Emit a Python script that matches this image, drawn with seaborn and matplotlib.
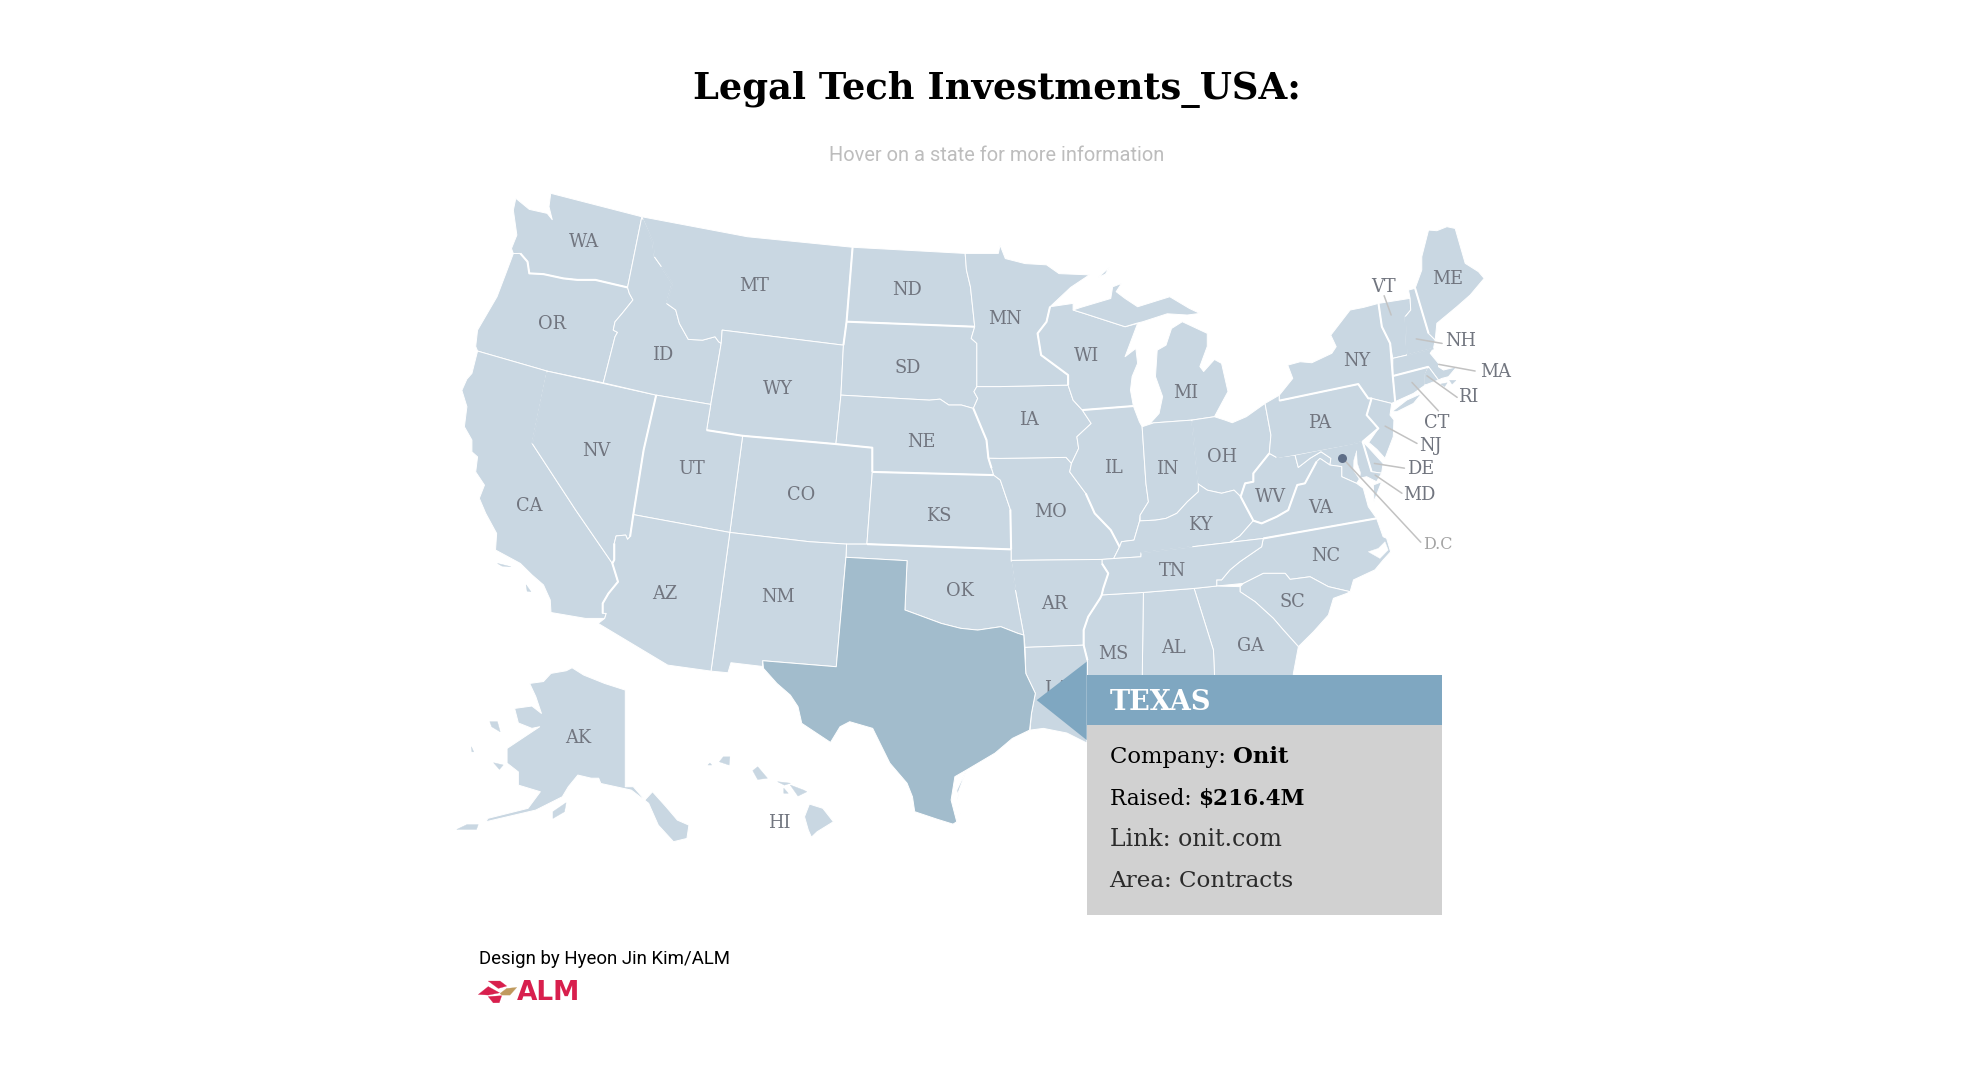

import matplotlib.pyplot as plt
import pandas as pd
import seaborn as sns

# outlines are in the picture's own map units (x right, y down)
WA = [(438.8,154),(511.4,172.7),(500,229),(474.4,223),(460,223),(448.8,221.8),(433,218.4),(421.7,217.8),(420.3,208.5),(414.6,201.9),(409,202),(407.5,198),(411.8,187.3),(409,167.4),(411,158),(421.7,166.8),(436,170),(440,175),(437.4,164.7)]
OR = [(409,202),(403,218),(396,236.4),(380.5,263),(379,276),(380.5,279.7),(436,295.7),(480.7,305),(490,268.3),(492,264.8),(488.6,263),(490,256.4),(495.7,249.7),(504.3,239),(501.4,233.8),(500,229),(474.4,223),(460,223),(448.8,221.8),(433,218.4),(421.7,217.8),(420.3,208.5),(414.6,201.9)]
CA = [(380.5,279.7),(436,295.7),(424,353.3),(458.7,406.4),(487.9,448.9),(492.4,463.5),(484.8,472.8),(480.2,480.7),(480.2,488.7),(483,488.7),(481.8,492.7),(466.5,492.7),(439,488),(438.4,478),(433,466),(423.8,458),(414.6,448.9),(394.8,438.2),(395.7,425),(387,409),(381.9,397),(386,386.5),(379,376),(380.5,364),(376,360),(376,350.6),(370,340),(372,324),(368,311),(372,302),(376,297.5)]
NV = [(436,295.7),(522.8,314.8),(512.8,358.6),(504.6,410),(502,427.6),(500,429.7),(498.5,426.3),(490.9,427),(489.4,433),(489.4,446),(487.9,448.9),(458.7,406.4),(424,353.3)]
ID = [(511.4,172.7),(500,229),(501.4,233.8),(504.3,239),(495.7,249.7),(490,256.4),(488.6,263),(492,264.8),(490,268.3),(480.7,305),(522.8,314.8),(566.3,322.2),(574.6,273.6),(572.6,272.3),(569.7,268.3),(559.8,271),(548.4,270.4),(541.3,257.7),(538.4,247),(531,241.7),(535.6,225.8),(527,212.5),(521.4,204.6),(520,192.6)]
MT = [(511.4,172.7),(595.4,188.6),(679.3,197),(674.5,256.3),(672,275),(575.4,263),(574.6,273.6),(572.6,272.3),(569.7,268.3),(559.8,271),(548.4,270.4),(541.3,257.7),(538.4,247),(531,241.7),(535.6,225.8),(527,212.5),(521.4,204.6),(520,192.6)]
WY = [(575.4,263),(672,275),(670,314.8),(666,353.8),(591.7,347.2),(563,342.7),(566.3,322.2),(574.6,273.6)]
ND = [(679.3,197),(769,201.9),(770,215),(773.2,228.5),(776.6,260.3),(674.5,256.3)]
SD = [(674.5,256.3),(776.6,260.3),(773.8,269.6),(778.3,273.6),(778.3,308),(776,312),(779,317.4),(775.5,325.4),(766,322.7),(756,322.7),(749,318),(740.5,318.8),(670,314.8),(672,275)]
NE = [(670,314.8),(740.5,318.8),(749,318),(756,322.7),(766,322.7),(775.5,325.4),(786,350.6),(787.5,365),(790,373),(791.7,378.5),(695,376),(695,356.7),(666,353.8)]
CO = [(591.7,347.2),(666,353.8),(695,356.7),(695,376),(690.7,433.5),(674.5,433.5),(644.9,431.6),(581.5,424.2)]
UT = [(522.8,314.8),(566.3,322.2),(563,342.7),(591.7,347.2),(581.5,424.2),(504.6,410),(512.8,358.6)]
KS = [(695,376),(791.7,378.5),(797,382.5),(805,406),(805.6,437.7),(690.7,433.5)]
MO = [(787.5,365),(796.8,365.2),(849.4,364.4),(853.7,369.2),(852.3,375.9),(865,393),(872.2,409),(885,422.3),(892,435.6),(887.3,445),(878,445.7),(805.6,446.5),(805.6,437.7),(805,406),(797,382.5),(791.7,378.5),(790,373)]
IA = [(778.3,308),(796.8,308),(851,306.8),(855,318.8),(862.3,326.7),(869.4,337.4),(858,348),(859.4,357.3),(853.7,369.2),(849.4,364.4),(796.8,365.2),(787.5,365),(786,350.6),(775.5,325.4),(779,317.4),(776,312)]
MN = [(769,201.9),(795.4,201.9),(796.8,195.3),(801,206),(816.7,210),(833.8,211),(843.8,218),(868,219),(853,229),(836.6,244.4),(833.8,256.4),(826.7,265.6),(829.5,282.9),(851,298.8),(851,306.8),(796.8,308),(778.3,308),(778.3,273.6),(773.8,269.6),(776.6,260.3),(773.2,228.5),(770,215)]
WI = [(836.6,244.4),(855,241.7),(855,247),(863.7,249.7),(896.4,260.3),(906.4,257.7),(896.4,284.2),(905,277.6),(906.4,289.5),(902,300),(900.7,310.8),(903,323.5),(862.3,326.7),(855,318.8),(851,306.8),(851,298.8),(829.5,282.9),(826.7,265.6),(833.8,256.4)]
MI_UPPER = [(855,247),(860.8,245),(885,237.8),(886.5,228.5),(893.6,225.8),(889.3,232.4),(896.4,237.8),(906.4,244.4),(932,236.4),(947.6,245.7),(956,249.7),(946,251),(930,250),(910.6,256.3),(905,257.7),(896.4,260.3),(863.7,249.7)]
MI_LOWER = [(916.3,337.4),(919.2,336.9),(949.6,334.7),(967.6,332),(969,329.4),(974.7,318.8),(978.4,312),(973.3,289.5),(967.6,286.4),(959,296),(956,292),(961.9,276),(961.9,265.6),(942,256.3),(933.4,261.7),(929,275),(922,279),(920.6,300),(926.3,316),(923.5,329.4)]
MI_ISLE = [(875,221),(883.6,213.3),(880.8,218.4)]
IL = [(862.3,326.7),(903,323.5),(907.8,336),(910,340),(913,385),(915,399.8),(908.4,410.4),(907.8,415.7),(903.5,430.3),(893.6,431.6),(892,435.6),(885,422.3),(872.2,409),(865,393),(852.3,375.9),(853.7,369.2),(859.4,357.3),(858,348),(869.4,337.4)]
IN = [(910,340),(919.2,336.9),(949.6,334.7),(954.8,385.7),(954.8,391.8),(946,399.8),(937.6,409),(929,413),(920.6,414.4),(908.4,415),(908.4,410.4),(915,399.8),(913,385)]
OH = [(949.6,334.7),(967.6,332),(976,334.7),(981.8,336.8),(993,332),(1007.9,321.4),(1012.6,346.6),(1011.3,361.2),(998.6,377.1),(998.6,383.8),(992,385.1),(988.5,395.7),(983.2,390.5),(973.3,393),(961.9,390.5),(954.8,385.7)]
KY = [(908.4,415),(920.6,414.4),(929,413),(937.6,409),(946,399.8),(954.8,391.8),(954.8,385.7),(961.9,390.5),(973.3,393),(983.2,390.5),(988.5,395.7),(992,402.4),(998.6,414.8),(987.9,427),(980,432.1),(909.2,440.4),(909,443.6),(887.3,445),(892,435.6),(893.6,431.6),(903.5,430.3),(907.8,415.7)]
WV = [(1017,364.4),(1011.3,361.2),(998.6,377.1),(998.6,383.8),(992,385.1),(988.5,395.7),(992,402.4),(998.6,414.8),(1005.2,417),(1017.2,411.7),(1026.4,406.4),(1033.6,386.4),(1039.7,385.1),(1049,367.8),(1051.7,365.2),(1059.6,370.5),(1060.4,365.2),(1052.5,359.9),(1043.7,365.2),(1034.4,372.4),(1031.8,362.5)]
PA = [(1007.9,321.4),(1019.3,314.8),(1019.3,319.2),(1082.2,306),(1090.2,317.4),(1092.8,317.4),(1088.9,330.7),(1098.2,341.3),(1085.7,351.9),(1031.8,362.5),(1017,364.4),(1011.3,361.2),(1012.6,346.6)]
NY = [(1019.3,314.8),(1030,301.5),(1026,290.9),(1035.9,288.2),(1045.2,289),(1061.1,281.5),(1064.6,276.2),(1060.3,267),(1075.7,247),(1086.4,244.9),(1098.3,241.7),(1101,260.3),(1107.6,273.6),(1109.7,299.6),(1111.6,320),(1108.8,321.4),(1092.8,317.4),(1090.2,317.4),(1082.2,306),(1019.3,319.2)]
LONG_ISLAND = [(1109,328),(1120.9,318.7),(1132.8,313.4),(1126.2,321.4),(1113,328)]
NJ = [(1092.8,317.4),(1108.8,321.4),(1107.5,330.7),(1110.6,334.6),(1110.1,347.9),(1103.5,365.2),(1097,358),(1090.5,352.5),(1098.2,341.3),(1088.9,330.7)]
DE = [(1085.7,351.9),(1090.2,356.4),(1102,369.2),(1100.8,377),(1092.8,375.8)]
MD = [(1031.8,362.5),(1085.7,351.9),(1092.8,375.8),(1100.8,377),(1096.8,383.8),(1088.9,379.8),(1083.5,381),(1080.9,385.1),(1069,379.8),(1069,371.8),(1059.6,370.5),(1060.4,365.2),(1052.5,359.9),(1043.7,365.2),(1034.4,372.4)]
CHESAPEAKE = [(1080.9,359),(1078.7,366.5),(1078.2,374.5),(1083,381.8),(1084.1,377),(1081.4,369)]
VA_SHORE = [(1094.2,386.4),(1100.8,383.8),(1094.7,399.7)]
VA = [(998.6,414.8),(1005.2,417),(1017.2,411.7),(1026.4,406.4),(1033.6,386.4),(1039.7,385.1),(1049,367.8),(1051.7,365.2),(1059.6,370.5),(1069,371.8),(1069,379.8),(1080.9,385.1),(1086.2,389),(1090.2,403.7),(1096.8,413),(1006.5,429),(980,432.1),(987.9,427)]
NC = [(1096.8,413),(1102,427.6),(1104.8,428.9),(1108,439.6),(1102,446.2),(1095.5,454),(1078.4,462),(1075.7,471.4),(1058.4,467.4),(1043.8,459.5),(1027.9,461.6),(1024,456.8),(1006.6,456.8),(990.7,464.8),(969.4,466.9),(969.4,462),(973.3,462),(980,454),(987.9,447.5),(1005.2,435.6),(1006.5,429)]
NC_SOUND = [(1103.5,431.6),(1106,438.2),(1099.5,444.9),(1090.2,439.6),(1098.2,436.9)]
SC = [(988,467.4),(990.7,464.8),(1006.6,456.8),(1024,456.8),(1027.9,461.6),(1043.8,459.5),(1058.4,467.4),(1075.7,471.4),(1073,472.8),(1062.4,476.7),(1058.4,490),(1046.5,503.3),(1034.5,515.2),(1022.6,502),(1014.6,492.7),(1000,479.4),(988,471.4)]
GA = [(951.4,468.8),(969.4,466.9),(988,467.4),(988,471.4),(1000,479.4),(1014.6,492.7),(1022.6,502),(1034.5,515.2),(1030.5,536.5),(1030,545),(968,545),(966.8,518)]
AL = [(911,472),(951.4,468.8),(966.8,518),(968,545),(910,545)]
MS = [(877.8,474),(911,472),(910,545),(866,545),(866.4,526),(863.4,514),(863.4,502),(867,491.4),(876.5,476.7)]
TN = [(887.3,445),(909,443.6),(909.2,440.4),(980,432.1),(1006.5,429),(1005.2,435.6),(987.9,447.5),(980,454),(973.3,462),(969.4,462),(969.4,466.9),(951.4,468.8),(911,472),(877.8,474),(879,468.8),(883,456.8),(878,449),(878,445.7)]
AR = [(805.6,446.5),(878,445.7),(878,449),(883,456.8),(879,468.8),(877.8,474),(876.5,476.7),(867,491.4),(863.4,502),(863.4,514),(816.7,515.8),(815.7,506),(809,470)]
LA = [(816.7,515.8),(863.4,514),(866.4,526),(866,592),(850,584),(831.3,580.3),(820.7,581.7),(821.8,568.4),(824.9,552.4),(817.3,536.5)]
OK = [(674.5,433.5),(690.7,433.5),(805.6,437.7),(805.6,446.5),(809,470),(815.7,506),(811,504.6),(797.4,499.3),(779,502),(765.4,500.6),(750,496.7),(731.9,490),(721,486),(722.7,446.7),(674,444)]
TX = [(674,444),(722.7,446.7),(721,486),(731.9,490),(750,496.7),(765.4,500.6),(779,502),(797.4,499.3),(811,504.6),(815.7,506),(817.3,536.5),(824.9,552.4),(821.8,568.4),(820.3,581.7),(806.6,588.3),(792.8,600),(770,613.5),(760.8,618.8),(757.8,637.4),(762.3,654.7),(759.3,656.6),(747,652.8),(728.8,646.7),(727,634.8),(722.7,624),(709,608),(695.3,580.3),(677,575),(669.3,579),(661.7,591.5),(638.8,576.3),(635.8,563),(629.7,553.8),(619,544.5),(608.3,532.5),(607.7,526.4),(666.3,531.2)]
PADRE = [(770,613.5),(762.3,629.5),(765.4,653.4),(763.3,632)]
NM = [(581.5,424.2),(644.9,431.6),(674.5,433.5),(674,444),(666.3,531.2),(607.7,526.4),(607.7,531),(582.4,528),(580,536),(566.5,534.7)]
AZ = [(504.6,410),(581.5,424.2),(566.5,534.7),(532,529.9),(476.6,496.7),(481.8,492.7),(483,488.7),(480.2,488.7),(480.2,480.7),(484.8,472.8),(492.4,463.5),(487.9,448.9),(489.4,446),(489.4,433),(490.9,427),(498.5,426.3),(500,429.7),(502,427.6)]
VT = [(1098.3,241.7),(1123.5,237.7),(1124,247),(1119.6,252.3),(1120.9,282.9),(1109.7,285.5),(1107.6,273.6),(1101,260.3)]
NH = [(1123.5,237.7),(1122.2,231.1),(1127.5,229.7),(1138.2,265.6),(1143.5,270.9),(1142.1,277.6),(1120.9,282.9),(1119.6,252.3),(1124,247)]
ME = [(1127.5,229.7),(1132.8,215.1),(1132.8,204.5),(1138.2,183.3),(1144.8,183.8),(1152.8,180.6),(1159.4,182),(1167.4,209.8),(1178,216.5),(1182.5,221.8),(1171.4,235),(1160.7,244.4),(1144.8,257.6),(1143.5,270.9),(1138.2,265.6)]
MA = [(1109.7,285.5),(1120.9,282.9),(1142.1,277.6),(1139.5,281.5),(1146.1,289.5),(1146.1,292.2),(1150.1,294.8),(1160.7,292.2),(1154.1,300.1),(1148.8,301.5),(1146.1,302.8),(1138.2,292.2),(1109.7,299.6)]
CT = [(1109.7,299.6),(1138.2,292.2),(1135.5,298.8),(1135.5,306.8),(1126.2,313.4),(1111.6,320)]
RI = [(1138.2,292.2),(1146.1,302.8),(1135.5,306.8),(1135.5,298.8)]
AK = [(455.8,532),(465,537.8),(481.7,544.5),(498.2,549.8),(498.2,626.8),(504.6,626.8),(513.8,637.4),(519.9,630.8),(530.6,642.7),(539.7,653.4),(548.9,657.4),(547.3,668),(536.6,670.6),(524.5,657.4),(516.8,640),(503,629.5),(478.7,624.2),(477,620),(471,620),(460.4,617.5),(452.8,626.8),(448,634.8),(426.9,645.4),(387.2,654.7),(388.7,652),(420.7,644),(430.5,630.8),(413,625.5),(413,615),(404,608),(404,596.3),(416,588.3),(430,579),(423.8,580.3),(413,576),(410,564.4),(423.8,562.5),(431.4,568.4),(426.9,555),(422,544.5),(433,543),(439,536.5),(451.2,534.4)]
HI = [(644.9,640.6),(655.6,644),(664,654.7),(651,662.7),(646.5,667),(644,661.3),(641,650.7)]

ISLANDS = [
    [(364,660.8),(372,657),(381,657),(379.6,660.8)],
    [(440.6,646.7),(451,639.6),(449.7,646.7),(440.6,652)],
    [(390.3,575),(396.3,575),(398.5,583),(391.8,579)],
    [(393.3,607.7),(400.9,609.5),(397.9,613)],
    [(375.6,595),(377.4,599),(376,599)],
    [(629.7,625.5),(640.3,629.5),(642.8,630.8),(635.8,634.2)],
    [(603.7,610.9),(611.4,620),(603.7,621),(599.8,614)],
    [(576.3,603),(581.5,603),(580.9,609.5),(573.2,606.9)],
    [(565.6,607.9),(567,609.5),(564.1,609.5)],
    [(619.6,622.8),(629.7,624),(625,625.5)],
    [(624.5,628),(628,632),(624.5,632)],
    [(396.4,448.9),(407,451.5),(400,451)],
    [(419.2,466),(423,471.4),(420,471)],
    [(1155,303),(1160,303),(1157,306)],
    [(1148,306),(1153,305),(1151,308)],
]

STATE_OUTLINES = [WA, OR, CA, NV, ID, MT, WY, ND, SD, NE, CO, UT, KS, MO, IA, MN, WI, MI_UPPER,
                  MI_LOWER, MI_ISLE, IL, IN, OH, KY, WV, PA, NY, LONG_ISLAND, NJ, DE, MD, VA_SHORE,
                  VA, NC, SC, GA, AL, MS, TN, AR, LA, OK, PADRE, NM, AZ, VT, NH, ME, MA, CT, RI, AK, HI]

# borders that read heavier in the picture
THICK_BORDERS = [
    [(500,229),(474.4,223),(460,223),(448.8,221.8),(433,218.4),(421.7,217.8),(420.3,208.5),(414.6,201.9)],
    [(674.5,256.3),(776.6,260.3)],
    [(522.8,314.8),(512.8,358.6),(504.6,410),(502,427.6)],
    [(679.3,197),(674.5,256.3),(672,275)],
    [(563,342.7),(591.7,347.2),(666,353.8),(695,356.7),(695,376)],
    [(775.5,325.4),(786,350.6),(787.5,365),(790,373)],
    [(851,306.8),(851,298.8),(829.5,282.9),(826.7,265.6),(833.8,256.4),(836.6,244.4)],
    [(862.3,326.7),(903,323.5)],
    [(489.4,433),(489.4,446),(487.9,448.9),(492.4,463.5),(484.8,472.8),(480.2,480.7),(480.2,488.7)],
    [(1011.3,361.2),(998.6,377.1),(998.6,383.8),(992,385.1),(988.5,395.7),(992,402.4),(998.6,414.8),(1005.2,417),(1017.2,411.7),(1026.4,406.4),(1033.6,386.4),(1039.7,385.1),(1049,367.8)],
    [(1006.5,429),(1096.8,413)],
    [(1098.3,241.7),(1101,260.3),(1107.6,273.6),(1109.7,299.6),(1111.6,320)],
    [(1127.5,229.7),(1138.2,265.6)],
    [(1109.7,299.6),(1138.2,292.2)],
    [(1019.3,319.2),(1082.2,306),(1090.2,317.4),(1092.8,317.4),(1088.9,330.7),(1098.2,341.3),(1085.7,351.9)],
    [(1085.7,351.9),(1092.8,375.8)],
    [(865,393),(872.2,409),(885,422.3),(892,435.6)],
    [(878,449),(883,456.8),(879,468.8),(877.8,474),(876.5,476.7),(867,491.4),(863.4,502),(863.4,514),(866.4,526)],
    [(695,376),(791.7,378.5)],
    [(690.7,433.5),(805.6,437.7)],
    [(805,406),(805.6,437.7)],
]

# borders that barely show in the picture, painted over in the land colour
HIDDEN_BORDERS = [
    [(949.6,335.5),(954.8,385)],
    [(436,296.5),(424,353.3)],
    [(809,470),(805.6,447.5)],
    [(512,175),(520,192.6),(521.4,204.6)],
    [(527,212.5),(535.6,225.8),(531,241.7)],
    [(1120.9,282),(1119.6,252.3)],
    [(909.2,440.4),(950,435.5)],
    [(1085,352),(1017,364.4)],
    [(1120.9,282.9),(1142.1,277.6)],
    [(1138.2,293.5),(1135.5,298.8),(1135.5,306)],
]

STATE_CODES = ["WA", "OR", "MT", "ND", "MN", "WI", "ME", "VT", "NH", "MA", "RI", "CT", "NJ", "DE", "MD",
               "NY", "PA", "OH", "IN", "IL", "MI", "IA", "MO", "KY", "WV", "VA", "NC", "SC", "TN", "GA",
               "AL", "MS", "AR", "OK", "KS", "NE", "SD", "WY", "ID", "NV", "CA", "UT", "CO", "AZ", "NM",
               "AK", "HI"]
LABEL_X = [465, 440, 601, 723, 801, 866, 1153, 1102, 1164, 1192, 1170, 1145, 1140, 1132, 1131,
           1081, 1051, 974, 930, 887, 945, 820, 837, 956, 1012, 1052, 1056, 1030, 934, 996,
           935, 887, 840, 765, 748, 734, 723, 620, 528, 475, 422, 551, 638, 530, 620,
           461, 621]
LABEL_Y = [193, 258, 228, 231, 254, 284, 222, 229, 272, 296, 316, 337, 355, 374, 394,
           288, 337, 364, 374, 373, 313, 335, 408, 418, 396, 405, 443, 480, 455, 515,
           516, 521, 481, 471, 411, 352, 293, 310, 283, 359, 403, 374, 394, 473, 476,
           588, 656]

LEADER_NAMES = ["VT", "NH", "MA", "RI", "CT", "NJ", "DE", "MD", "DC"]
LEADER_X0 = [1102.8, 1128.4, 1146.3, 1136.9, 1125, 1103.6, 1095, 1095.6, 1069.4]
LEADER_Y0 = [235.6, 270, 290.3, 299.4, 304.7, 339.5, 369.2, 378.5, 364.7]
LEADER_X1 = [1108.4, 1149, 1175.3, 1161, 1146, 1129, 1119, 1117, 1132]
LEADER_Y1 = [251, 273.6, 295.6, 316.6, 327.3, 353.3, 373, 393, 432]

LOGO_RED = [
    [(389,781.6),(398.4,781.6),(403.7,785.6),(397,787.5)],
    [(381.1,792.3),(389,786),(398,791),(389,792.8)],
    [(389,794),(399.7,793.3),(397.8,798.9),(393,799)],
]
LOGO_GOLD = [(398.4,791.5),(403.7,787.5),(411.7,786.7),(406.3,792.8),(399.7,792.8)]

LAND = "#c9d7e2"
TEXAS = "#a2bccc"
HEADER = "#7fa7c1"
SERIF = "DejaVu Serif"

sns.set_theme(style="white")
plt.rcParams["font.family"] = ["Roboto", "DejaVu Sans"]

fig = plt.figure(figsize=(19.68, 10.66), dpi=100)
ax = fig.add_axes([0, 0, 1, 1])
ax.set_xlim(0, 1568)
ax.set_ylim(849.3, 0)
ax.axis("off")


def fill_shape(points, color, edge="white", lw=0.7, zorder=1):
    xs, ys = zip(*points)
    ax.fill(xs, ys, facecolor=color, edgecolor=edge, linewidth=lw, zorder=zorder, joinstyle="round")


def draw_path(points, color, lw, zorder):
    xs, ys = zip(*points)
    ax.plot(xs, ys, color=color, linewidth=lw, zorder=zorder, solid_capstyle="butt")


for outline in STATE_OUTLINES:
    fill_shape(outline, LAND)
for outline in ISLANDS:
    fill_shape(outline, LAND, edge=LAND, lw=0.3)
fill_shape(NC_SOUND, "white", edge="white", lw=0.3, zorder=1.2)
fill_shape(CHESAPEAKE, "white", edge="white", lw=0.3, zorder=1.2)
for path in HIDDEN_BORDERS:
    draw_path(path, LAND, 1.3, 1.4)
for path in THICK_BORDERS:
    draw_path(path, "white", 1.5, 1.5)
fill_shape(TX, TEXAS, zorder=2)

# leaders and the D.C. dot
leaders = pd.DataFrame({
    "x": LEADER_X0 + LEADER_X1,
    "y": LEADER_Y0 + LEADER_Y1,
    "name": LEADER_NAMES + LEADER_NAMES,
})
sns.lineplot(data=leaders, x="x", y="y", units="name", estimator=None, sort=False,
             color="#c2c2c2", linewidth=1.1, ax=ax, zorder=3, legend=False)
sns.scatterplot(x=[LEADER_X0[-1]], y=[LEADER_Y0[-1]], color="#5e6e88", s=42, linewidth=0, ax=ax, zorder=4)
ax.set_xlim(0, 1568)
ax.set_ylim(849.3, 0)
ax.axis("off")

for code, x, y in zip(STATE_CODES, LABEL_X, LABEL_Y):
    ax.text(x, y, code, family=SERIF, fontsize=12.8, color="#71757f", ha="center", va="center", zorder=5)
ax.text(1146, 434, "D.C", family=SERIF, fontsize=11.5, color="#a3a3a3", ha="center", va="center", zorder=5)
ax.text(842, 549, "LA", family=SERIF, fontsize=12.8, color="#71757f", ha="center", va="center", zorder=5)

# tooltip panel
fill_shape([(826, 557.8), (865.8, 527.2), (865.8, 589.6)], HEADER, edge=HEADER, lw=0, zorder=6)
fill_shape([(865.8, 537.8), (1149, 537.8), (1149, 577.7), (865.8, 577.7)], HEADER, edge=HEADER, lw=0, zorder=6)
fill_shape([(865.8, 577.7), (1149, 577.7), (1149, 729), (865.8, 729)], "#d1d1d1", edge="#d1d1d1", lw=0, zorder=6)

ax.text(884, 565.5, "TEXAS", family=SERIF, fontweight="bold", fontsize=19.5, color="white", zorder=7)
company = ax.text(884, 608, "Company: ", family=SERIF, fontsize=16.4, color="black", zorder=7)
ax.annotate("Onit", xy=(1, 0), xycoords=company, family=SERIF, fontweight="bold", fontsize=16.4,
            color="black", va="bottom", zorder=7)
raised = ax.text(884, 641, "Raised: ", family=SERIF, fontsize=15.6, color="black", zorder=7)
ax.annotate("$216.4M", xy=(1, 0), xycoords=raised, family=SERIF, fontweight="bold", fontsize=15.6,
            color="black", va="bottom", zorder=7)
ax.text(884, 674, "Link: onit.com", family=SERIF, fontsize=17, color="#2b2b2b", zorder=7)
ax.text(884, 707, "Area: Contracts", family=SERIF, fontsize=16.6, color="#2b2b2b", zorder=7)

ax.text(794, 71, "Legal Tech Investments_USA:", family=SERIF, fontweight="bold", fontsize=26.6,
        color="black", ha="center", va="center")
ax.text(794, 124, "Hover on a state for more information", fontsize=14.4, color="#bdbdbd",
        ha="center", va="center")
ax.text(382, 768, "Design by Hyeon Jin Kim/ALM", fontsize=13.45, color="black")

for shape in LOGO_RED:
    fill_shape(shape, "#d81f4d", edge="#d81f4d", lw=0.2)
fill_shape(LOGO_GOLD, "#c09a5e", edge="#c09a5e", lw=0.2)
ax.text(412, 796.5, "ALM", family="DejaVu Sans", fontweight="bold", fontsize=19, color="#d81f4d")

fig.savefig("out.png", dpi=100)
plt.close(fig)
